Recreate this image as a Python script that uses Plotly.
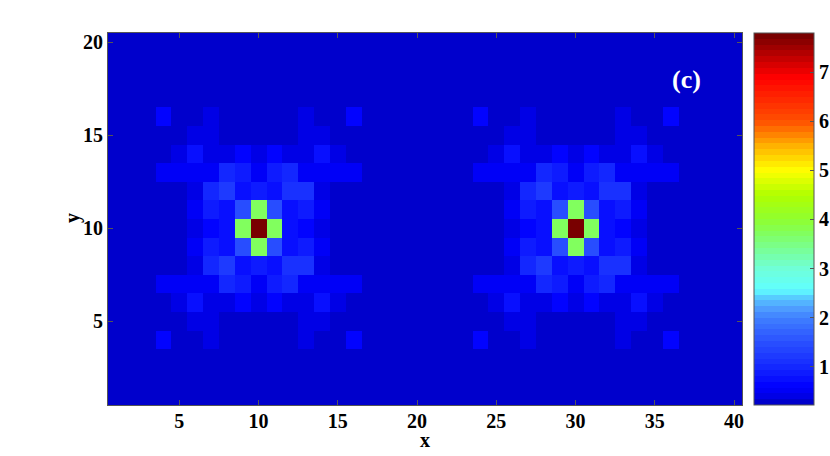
import plotly.graph_objects as go

BG = 0.25
NX = 40
NY = 20
CENTRES = [(10, 10), (30, 10)]
# rows for dy = +6 ... 0 (mirrored below), columns dx = -6 ... +6
PATCH = [
    [0.60, BG, BG, 0.45, BG, BG, BG, BG, BG, 0.45, BG, BG, 0.60],
    [BG, BG, 0.45, 0.45, BG, BG, BG, BG, BG, 0.45, 0.45, BG, BG],
    [BG, 0.45, 0.72, 0.45, 0.45, 0.58, 0.42, 0.58, 0.45, 0.45, 0.72, 0.45, BG],
    [0.48, 0.48, 0.48, 0.48, 0.98, 0.82, 0.55, 0.82, 0.98, 0.48, 0.48, 0.48, 0.48],
    [BG, BG, 0.45, 1.00, 1.18, 0.78, 0.85, 0.78, 1.15, 1.10, 0.45, BG, BG],
    [BG, BG, 0.52, 0.92, 0.72, 1.45, 3.70, 1.45, 0.72, 0.92, 0.52, BG, BG],
    [BG, BG, 0.42, 0.60, 0.80, 3.70, 7.80, 3.70, 0.80, 0.60, 0.42, BG, BG],
]
Z_MIN = 0.22
Z_MAX = 7.80
X_TICKS = [5, 10, 15, 20, 25, 30, 35, 40]
Y_TICKS = [5, 10, 15, 20]
BAR_TICKS = [1, 2, 3, 4, 5, 6, 7]
LEVELS = 64
ANCHORS = [
    (0.22, "#0000c8"), (0.34, "#0000d0"), (0.42, "#0000ee"), (0.60, "#0000ff"),
    (1.00, "#1428ff"), (1.50, "#2a50ff"),
    (2.00, "#4080ff"), (2.20, "#50a0ff"), (2.43, "#58d0ff"), (2.57, "#60ffff"),
    (3.00, "#70ffd8"),
    (3.70, "#80ff60"), (4.00, "#90ff30"), (4.50, "#b0ff00"), (5.00, "#ffff00"),
    (5.50, "#ffb000"), (6.00, "#ff5000"), (6.90, "#ff0000"), (7.80, "#700000"),
]


def rgb(h):
    return tuple(int(h[i:i + 2], 16) for i in (1, 3, 5))


def colour_at(v):
    for (a, ca), (b, cb) in zip(ANCHORS, ANCHORS[1:]):
        if v <= b:
            t = max(0.0, (v - a) / (b - a))
            p, q = rgb(ca), rgb(cb)
            return "rgb(%d,%d,%d)" % tuple(round(p[i] + t * (q[i] - p[i])) for i in range(3))
    return "rgb%s" % (rgb(ANCHORS[-1][1]),)


colorscale = []
for i in range(LEVELS):
    c = colour_at(Z_MIN + (i + 0.5) / LEVELS * (Z_MAX - Z_MIN))
    colorscale += [[i / LEVELS, c], [(i + 1) / LEVELS, c]]

full_patch = PATCH + PATCH[-2::-1]
z = [[BG] * NX for _ in range(NY)]
for cx, cy in CENTRES:
    for r, row in enumerate(full_patch):
        for c, v in enumerate(row):
            z[cy + 6 - r - 1][cx - 6 + c - 1] = v

W, H = 830, 456
L, R, T, B = 108, 742, 33, 405
SERIF = "Liberation Serif, Times New Roman, serif"
FONT = dict(family=SERIF, size=20, color="black")
LINE = "#555555"

fig = go.Figure(go.Heatmap(
    z=z,
    x=list(range(1, NX + 1)),
    y=list(range(1, NY + 1)),
    zmin=Z_MIN,
    zmax=Z_MAX,
    colorscale=colorscale,
    colorbar=dict(
        x=(754 - L) / (R - L), xanchor="left", xpad=0,
        y=0, yanchor="bottom", ypad=0,
        lenmode="fraction", len=1,
        thicknessmode="pixels", thickness=60,
        tickmode="array", tickvals=BAR_TICKS, ticktext=["<b>%d</b>" % t for t in BAR_TICKS],
        ticks="inside", ticklen=4, tickcolor=LINE, tickwidth=1,
        outlinecolor=LINE, outlinewidth=1,
        tickfont=FONT,
    ),
))

fig.add_annotation(
    x=37, y=18.0, xref="x", yref="y", text="<b>(c)</b>", showarrow=False,
    font=dict(family=SERIF, size=26, color="white"),
)
fig.add_annotation(
    x=0.5, y=-(440 - B) / (B - T), xref="paper", yref="paper", text="<b>x</b>",
    showarrow=False, font=FONT, yanchor="middle",
)
fig.add_annotation(
    x=-(L - 72) / (R - L), y=(B - 218) / (B - T), xref="paper", yref="paper", text="<b>y</b>",
    showarrow=False, font=FONT, textangle=-90, xanchor="center", yanchor="middle",
)

axis = dict(
    ticks="inside", ticklen=5, tickwidth=1, tickcolor=LINE,
    showline=True, linecolor=LINE, linewidth=1, mirror="ticks",
    showgrid=False, zeroline=False, tickfont=FONT, automargin=False,
)
fig.update_layout(
    width=W, height=H,
    margin=dict(l=L, r=W - R, t=T, b=H - B, autoexpand=False),
    paper_bgcolor="white", plot_bgcolor="white",
    font=dict(family=SERIF, size=20, color="black"),
    xaxis=dict(
        range=[0.5, NX + 0.5], tickvals=X_TICKS,
        ticktext=["<b>%d</b>" % t for t in X_TICKS],
        ticklabelstandoff=-2,
        **axis,
    ),
    yaxis=dict(
        range=[0.5, NY + 0.5], tickvals=Y_TICKS,
        ticktext=["<b>%d</b>" % t for t in Y_TICKS],
        **axis,
    ),
)
fig.write_html(
    "out.html",
    config=dict(displayModeBar=False),
    post_script="document.body.style.margin='0';",
)
